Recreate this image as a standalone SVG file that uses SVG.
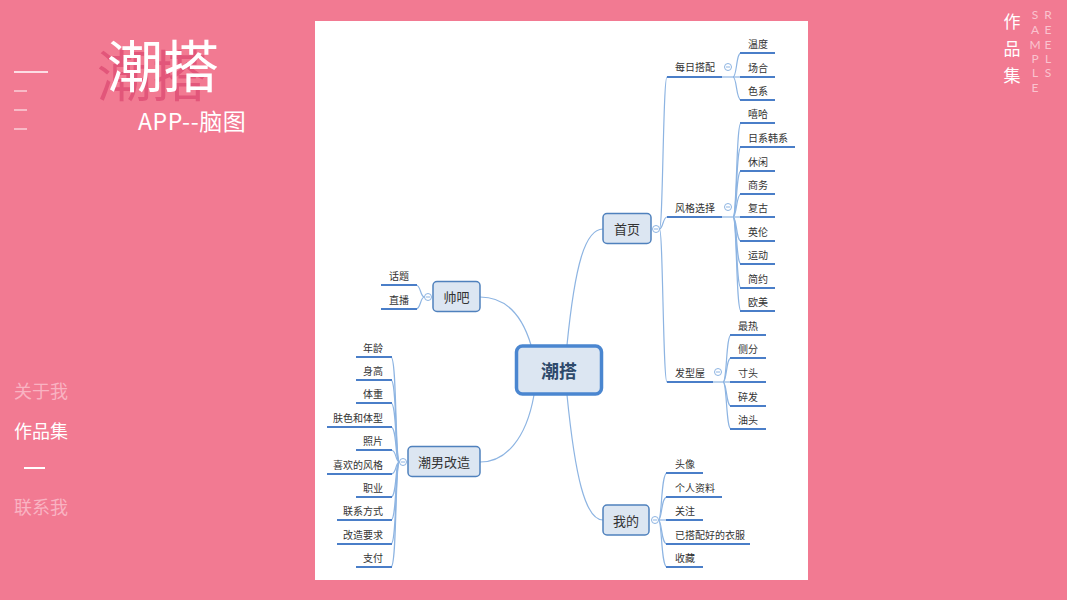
<svg xmlns="http://www.w3.org/2000/svg" width="1067" height="600" viewBox="0 0 1067 600">
<style>
.cjk{font-family:"Noto Sans CJK SC","Noto Sans",sans-serif}
.t{font-family:"Noto Sans CJK SC","Noto Sans",sans-serif;font-size:10px;fill:#333;dominant-baseline:central}
.tr{text-anchor:end}
.nt{font-family:"Noto Sans CJK SC","Noto Sans",sans-serif;font-size:13px;fill:#333;text-anchor:middle;dominant-baseline:central}
.box{fill:#DCE6F2;stroke:#4F81BD;stroke-width:1.5}
.ul{stroke:#4A7EC8;stroke-width:2;fill:none}
.cn{stroke:#8DB4E2;stroke-width:1.2;fill:none}
.cc{fill:#fff;stroke:#8DB4E2;stroke-width:1}
.cm{stroke:#8DB4E2;stroke-width:1}
.nav{font-family:"Noto Sans CJK SC","Noto Sans",sans-serif;font-size:18px;dominant-baseline:central}
.smp{font-family:Lato,"Open Sans",sans-serif;font-weight:400;font-size:12px;fill:#FAC3CF;text-anchor:middle;dominant-baseline:central}
</style>
<defs>
<g id="cc"><circle class="cc" cx="0" cy="0" r="3.5"/><line class="cm" x1="-2" y1="0" x2="2" y2="0"/></g>
</defs>
<rect width="1067" height="600" fill="#F27A92"/>
<g id="title">
<text x="97" y="72" class="cjk" font-size="55" fill="#E2567A" dominant-baseline="central">潮搭</text>
<text x="107" y="62" class="cjk" font-size="56" fill="#fff" dominant-baseline="central">潮搭</text>
<text x="138" y="120" class="cjk" font-size="23" letter-spacing="0.6" fill="#fff" dominant-baseline="central">APP--脑图</text>
</g>
<g id="leftdeco" stroke="#fff" stroke-width="1.5">
<line x1="14" y1="72" x2="48" y2="72"/>
<line x1="14" y1="91" x2="27" y2="91" stroke="#FAD0D9"/>
<line x1="14" y1="110" x2="27" y2="110" stroke="#FAD0D9"/>
<line x1="14" y1="129" x2="27" y2="129" stroke="#FAD0D9"/>
</g>
<g id="nav">
<text x="14" y="390" class="nav" fill="#F9B3C2">关于我</text>
<text x="14" y="430" class="nav" fill="#fff">作品集</text>
<line x1="24" y1="468" x2="45" y2="468" stroke="#fff" stroke-width="2"/>
<text x="14" y="506" class="nav" fill="#F9B3C2">联系我</text>
</g>
<g id="corner">
<text x="1012" y="20" class="cjk" font-size="17" fill="#fff" text-anchor="middle" dominant-baseline="central">作</text>
<text x="1012" y="47" class="cjk" font-size="17" fill="#fff" text-anchor="middle" dominant-baseline="central">品</text>
<text x="1012" y="74" class="cjk" font-size="17" fill="#fff" text-anchor="middle" dominant-baseline="central">集</text>
<text x="1035" y="14" class="smp">S</text>
<text x="1035" y="29" class="smp">A</text>
<text x="1035" y="44" class="smp">M</text>
<text x="1035" y="58" class="smp">P</text>
<text x="1035" y="72" class="smp">L</text>
<text x="1035" y="87" class="smp">E</text>
<text x="1048" y="14" class="smp">R</text>
<text x="1048" y="29" class="smp">E</text>
<text x="1048" y="44" class="smp">E</text>
<text x="1048" y="58" class="smp">L</text>
<text x="1048" y="72" class="smp">S</text>
</g>
<rect x="315" y="21" width="493" height="559" fill="#fff"/>
<g id="connectors">
<path class="cn" d="M567 345 C575 265 585 229 603 229"/>
<path class="cn" d="M567 395 C575 475 585 520 603 520"/>
<path class="cn" d="M531 345 C522 315 505 297 480 297"/>
<path class="cn" d="M534 395 C526 440 505 462 480 462"/>
<path class="cn" d="M659.5 229 C663 229 663 77 667 77"/>
<path class="cn" d="M659.5 229 C663 229 663 217 667 217"/>
<path class="cn" d="M659.5 229 C663 229 663 382 667 382"/>
<path class="cn" d="M722 77 L740 77"/>
<path class="cn" d="M733 77 C737 77 736 53 741 53"/>
<path class="cn" d="M733 77 C737 77 736 100 741 100"/>
<path class="cn" d="M722 217 L740 217"/>
<path class="cn" d="M733 217 C737 217 736 123 741 123"/>
<path class="cn" d="M733 217 C737 217 736 147 741 147"/>
<path class="cn" d="M733 217 C737 217 736 171 741 171"/>
<path class="cn" d="M733 217 C737 217 736 194 741 194"/>
<path class="cn" d="M733 217 C737 217 736 241 741 241"/>
<path class="cn" d="M733 217 C737 217 736 264 741 264"/>
<path class="cn" d="M733 217 C737 217 736 288 741 288"/>
<path class="cn" d="M733 217 C737 217 736 311 741 311"/>
<path class="cn" d="M713 382 L730 382"/>
<path class="cn" d="M723 382 C727 382 726 335 731 335"/>
<path class="cn" d="M723 382 C727 382 726 358 731 358"/>
<path class="cn" d="M723 382 C727 382 726 406 731 406"/>
<path class="cn" d="M723 382 C727 382 726 429 731 429"/>
<path class="cn" d="M658.5 520 L666 520"/>
<path class="cn" d="M658.5 520 C662 520 661 473 667 473"/>
<path class="cn" d="M658.5 520 C662 520 661 497 667 497"/>
<path class="cn" d="M658.5 520 C662 520 661 544 667 544"/>
<path class="cn" d="M658.5 520 C662 520 661 567 667 567"/>
<path class="cn" d="M424.5 297 C420 297 421 285 416 285"/>
<path class="cn" d="M424.5 297 C420 297 421 309 416 309"/>
<path class="cn" d="M399.5 462 C395 462 397 357 391 357"/>
<path class="cn" d="M399.5 462 C395 462 397 380 391 380"/>
<path class="cn" d="M399.5 462 C395 462 397 403 391 403"/>
<path class="cn" d="M399.5 462 C395 462 397 427 391 427"/>
<path class="cn" d="M399.5 462 C395 462 397 450 391 450"/>
<path class="cn" d="M399.5 462 C395 462 397 474 391 474"/>
<path class="cn" d="M399.5 462 C395 462 397 497 391 497"/>
<path class="cn" d="M399.5 462 C395 462 397 520 391 520"/>
<path class="cn" d="M399.5 462 C395 462 397 544 391 544"/>
<path class="cn" d="M399.5 462 C395 462 397 567 391 567"/>
</g>
<g id="node-center">
<rect x="516.5" y="346" width="85" height="48" rx="6" fill="#DCE6F2" stroke="#4A86D0" stroke-width="3.5"/>
<text x="559" y="370" class="cjk" font-size="18" font-weight="bold" fill="#2E4A6B" text-anchor="middle" dominant-baseline="central">潮搭</text>
</g>
<g id="node-shouye">
<rect class="box" x="603" y="213.5" width="48" height="30" rx="4"/>
<text class="nt" x="627" y="228.5">首页</text>
<use href="#cc" x="656" y="229"/>
</g>
<g id="node-mine">
<rect class="box" x="603" y="505" width="46" height="30" rx="4"/>
<text class="nt" x="626" y="520">我的</text>
<use href="#cc" x="655" y="520"/>
</g>
<g id="node-shuaiba">
<rect class="box" x="433" y="281.5" width="47" height="30" rx="4"/>
<text class="nt" x="456.5" y="296.5">帅吧</text>
<use href="#cc" x="428" y="297"/>
</g>
<g id="node-gaizao">
<rect class="box" x="408" y="446.5" width="72" height="30" rx="4"/>
<text class="nt" x="444" y="461.5">潮男改造</text>
<use href="#cc" x="403" y="462"/>
</g>
<g id="node-meiri">
<line class="ul" x1="667" y1="77" x2="722" y2="77"/>
<text class="t" x="675" y="66">每日搭配</text>
<use href="#cc" x="728" y="67"/>
</g>
<g id="node-fengge">
<line class="ul" x1="667" y1="217" x2="722" y2="217"/>
<text class="t" x="675" y="207">风格选择</text>
<use href="#cc" x="728" y="207"/>
</g>
<g id="node-faxing">
<line class="ul" x1="667" y1="382" x2="713" y2="382"/>
<text class="t" x="675" y="372">发型屋</text>
<use href="#cc" x="718" y="372"/>
</g>
<g id="leaves-meiri">
<g id="n-wendu"><line class="ul" x1="740" y1="53" x2="775" y2="53"/><text class="t" x="748" y="43">温度</text></g>
<g id="n-changhe"><line class="ul" x1="740" y1="77" x2="775" y2="77"/><text class="t" x="748" y="67">场合</text></g>
<g id="n-sexi"><line class="ul" x1="740" y1="100" x2="775" y2="100"/><text class="t" x="748" y="90">色系</text></g>
</g>
<g id="leaves-fengge">
<g id="n-xiha"><line class="ul" x1="740" y1="123" x2="775" y2="123"/><text class="t" x="748" y="113">嘻哈</text></g>
<g id="n-rixi"><line class="ul" x1="740" y1="147" x2="795" y2="147"/><text class="t" x="748" y="137">日系韩系</text></g>
<g id="n-xiuxian"><line class="ul" x1="740" y1="171" x2="775" y2="171"/><text class="t" x="748" y="161">休闲</text></g>
<g id="n-shangwu"><line class="ul" x1="740" y1="194" x2="775" y2="194"/><text class="t" x="748" y="184">商务</text></g>
<g id="n-fugu"><line class="ul" x1="740" y1="217" x2="775" y2="217"/><text class="t" x="748" y="207">复古</text></g>
<g id="n-yinglun"><line class="ul" x1="740" y1="241" x2="775" y2="241"/><text class="t" x="748" y="231">英伦</text></g>
<g id="n-yundong"><line class="ul" x1="740" y1="264" x2="775" y2="264"/><text class="t" x="748" y="254">运动</text></g>
<g id="n-jianyue"><line class="ul" x1="740" y1="288" x2="775" y2="288"/><text class="t" x="748" y="278">简约</text></g>
<g id="n-oumei"><line class="ul" x1="740" y1="311" x2="775" y2="311"/><text class="t" x="748" y="301">欧美</text></g>
</g>
<g id="leaves-faxing">
<g id="n-zuire"><line class="ul" x1="730" y1="335" x2="766" y2="335"/><text class="t" x="738" y="325">最热</text></g>
<g id="n-cefen"><line class="ul" x1="730" y1="358" x2="766" y2="358"/><text class="t" x="738" y="348">侧分</text></g>
<g id="n-cuntou"><line class="ul" x1="730" y1="382" x2="766" y2="382"/><text class="t" x="738" y="372">寸头</text></g>
<g id="n-suifa"><line class="ul" x1="730" y1="406" x2="766" y2="406"/><text class="t" x="738" y="396">碎发</text></g>
<g id="n-youtou"><line class="ul" x1="730" y1="429" x2="766" y2="429"/><text class="t" x="738" y="419">油头</text></g>
</g>
<g id="leaves-mine">
<g id="n-touxiang"><line class="ul" x1="666" y1="473" x2="703" y2="473"/><text class="t" x="675" y="463">头像</text></g>
<g id="n-ziliao"><line class="ul" x1="666" y1="497" x2="722" y2="497"/><text class="t" x="675" y="487">个人资料</text></g>
<g id="n-guanzhu"><line class="ul" x1="666" y1="520" x2="703" y2="520"/><text class="t" x="675" y="510">关注</text></g>
<g id="n-yifu"><line class="ul" x1="666" y1="544" x2="750" y2="544"/><text class="t" x="675" y="534">已搭配好的衣服</text></g>
<g id="n-shoucang"><line class="ul" x1="666" y1="567" x2="703" y2="567"/><text class="t" x="675" y="557">收藏</text></g>
</g>
<g id="leaves-shuaiba">
<g id="n-huati"><line class="ul" x1="381" y1="285" x2="417" y2="285"/><text class="t tr" x="409" y="275">话题</text></g>
<g id="n-zhibo"><line class="ul" x1="381" y1="309" x2="417" y2="309"/><text class="t tr" x="409" y="299">直播</text></g>
</g>
<g id="leaves-gaizao">
<g id="n-nianling"><line class="ul" x1="356" y1="357" x2="392" y2="357"/><text class="t tr" x="383" y="347">年龄</text></g>
<g id="n-shengao"><line class="ul" x1="356" y1="380" x2="392" y2="380"/><text class="t tr" x="383" y="370">身高</text></g>
<g id="n-tizhong"><line class="ul" x1="356" y1="403" x2="392" y2="403"/><text class="t tr" x="383" y="393">体重</text></g>
<g id="n-fuse"><line class="ul" x1="327" y1="427" x2="392" y2="427"/><text class="t tr" x="383" y="417">肤色和体型</text></g>
<g id="n-zhaopian"><line class="ul" x1="356" y1="450" x2="392" y2="450"/><text class="t tr" x="383" y="440">照片</text></g>
<g id="n-xihuan"><line class="ul" x1="327" y1="474" x2="392" y2="474"/><text class="t tr" x="383" y="464">喜欢的风格</text></g>
<g id="n-zhiye"><line class="ul" x1="356" y1="497" x2="392" y2="497"/><text class="t tr" x="383" y="487">职业</text></g>
<g id="n-lianxi"><line class="ul" x1="337" y1="520" x2="392" y2="520"/><text class="t tr" x="383" y="510">联系方式</text></g>
<g id="n-yaoqiu"><line class="ul" x1="337" y1="544" x2="392" y2="544"/><text class="t tr" x="383" y="534">改造要求</text></g>
<g id="n-zhifu"><line class="ul" x1="356" y1="567" x2="392" y2="567"/><text class="t tr" x="383" y="557">支付</text></g>
</g>
</svg>
